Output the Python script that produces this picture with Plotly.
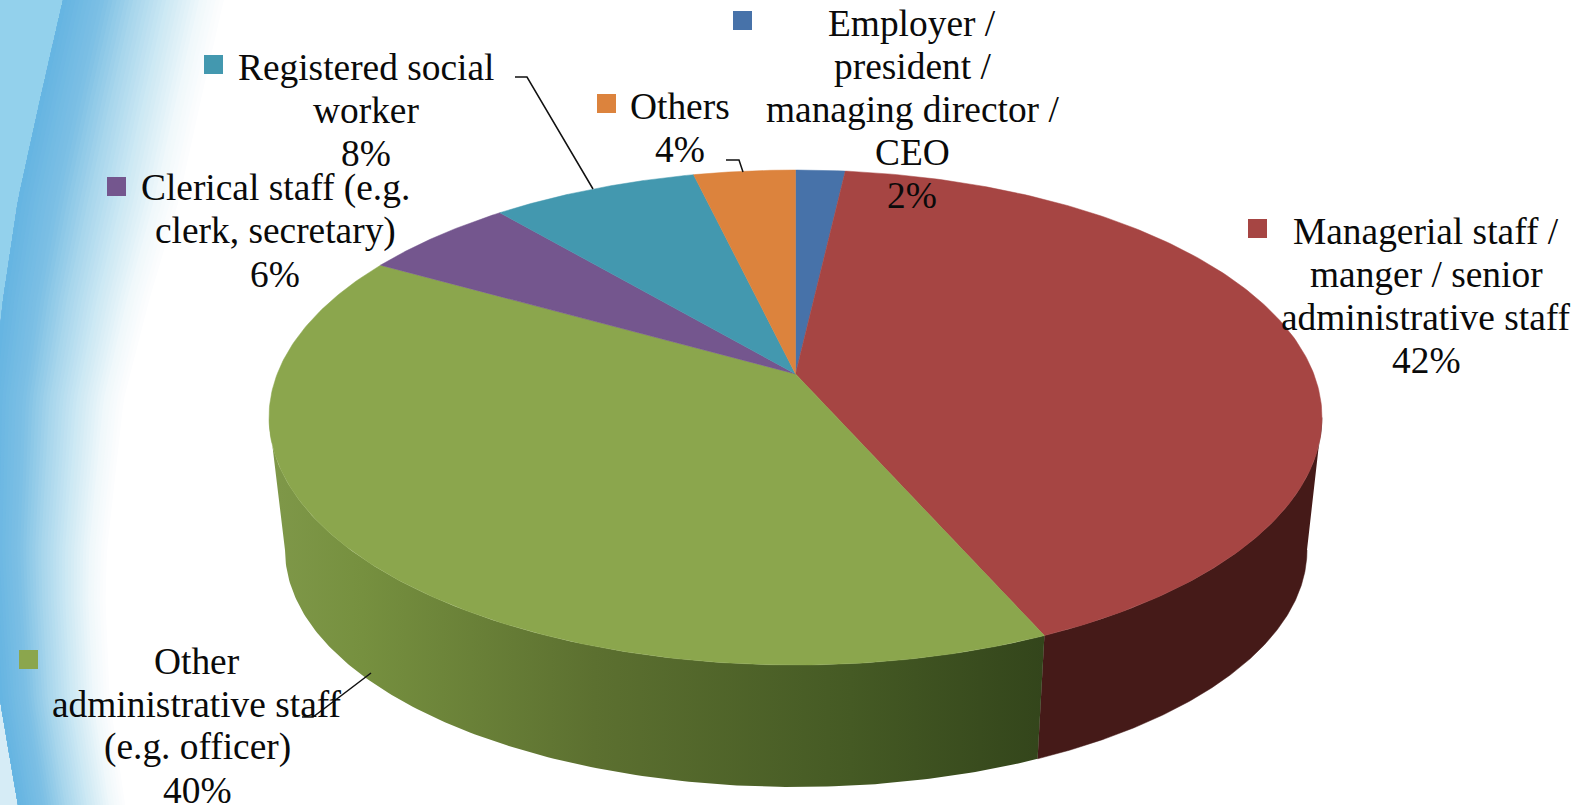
import numpy as np
import plotly.graph_objects as go

categories = ["Employer", "Managerial", "Other admin", "Clerical", "Registered", "Others"]
shares = [1.8, 41.6, 39.8, 5.6, 7.5, 3.7]
top_colors = ["#4772a9", "#a64543", "#8ba64d", "#74568e", "#4398af", "#dc833d"]
side_colors = ["#1f3350", "#451a18", "#5c7030", "#33264a", "#1d4a56", "#6e401c"]

label_lines = [
    ["Employer /", "president /", "managing director /", "CEO"],
    ["Managerial staff /", "manger / senior", "administrative staff"],
    ["Other", "administrative staff", "(e.g. officer)"],
    ["Clerical staff (e.g.", "clerk, secretary)"],
    ["Registered social", "worker"],
    ["Others"],
]
label_x = [912, 1426, 197, 275, 366, 680]
label_y = [23, 231, 661, 188, 67, 106]
key_x = [733, 1248, 19, 107, 204, 597]
key_y = [11, 219, 650, 177, 55, 94]
leaders = [
    None,
    None,
    [(302, 717), (313, 717), (371, 673)],
    None,
    [(515, 77), (527, 77), (593, 189)],
    [(726, 160), (739, 160), (743, 172)],
]

LINE_STEP = 43
FONT = dict(family="Liberation Serif, Times New Roman, serif", size=37.4, color="#0a0a0a")

# pie geometry in page pixels: perspective moves the apex above the ellipse centre
CX, CY, A, B = 795.5, 417.5, 526.5, 247.5
CX2, CY2, A2, B2 = 796, 550, 511, 237
K = 0.176


def rim(t, cx, cy, a, b):
    den = 1 + K * np.cos(t)
    x = np.sin(t) * np.sqrt(1 - K ** 2) / den
    y = (np.cos(t) + K) / den
    return cx + a * x, cy - b * y


fig = go.Figure()

# background swoosh on the left
edge_y = np.linspace(0, 805, 60)
edge_x = np.interp(edge_y, [0, 100, 200, 300, 400, 550, 700, 805], [63, 40, 18, 3, -8, -10, 0, 18])
edge_w = np.interp(edge_y, [0, 200, 400, 600, 805], [165, 165, 135, 115, 110])
stops_f = [0, 0.25, 0.45, 0.65, 0.85, 1]
stops_rgb = np.array([[100, 180, 226], [125, 192, 229], [168, 214, 236],
                      [205, 233, 244], [240, 248, 251], [255, 255, 255]])
shapes = []


def path_of(xs, ys):
    pts = [f"{x:.1f},{y:.1f}" for x, y in zip(xs, ys)]
    return "M" + " L".join(pts) + " Z"


shapes.append(dict(type="path", layer="below", line_width=0, fillcolor="#93d1ec",
                   path=path_of([0] + list(edge_x[edge_y < 340]) + [0],
                                [0] + list(edge_y[edge_y < 340]) + [340])))
shapes.append(dict(type="path", layer="below", line_width=0, fillcolor="#d6ecf6",
                   path=path_of([0] + list(edge_x[edge_y > 690]) + [0],
                                [690] + list(edge_y[edge_y > 690]) + [805])))
for f in np.linspace(1, 0.025, 40):
    rgb = [np.interp(f, stops_f, stops_rgb[:, i]) for i in range(3)]
    xs = np.r_[edge_x, (edge_x + f * edge_w)[::-1]]
    ys = np.r_[edge_y, edge_y[::-1]]
    shapes.append(dict(type="path", layer="below", line_width=0,
                       fillcolor="rgb(%d,%d,%d)" % tuple(rgb), path=path_of(xs, ys)))

starts = np.cumsum([0] + shares[:-1]) / sum(shares) * 2 * np.pi
ends = np.cumsum(shares) / sum(shares) * 2 * np.pi

# side walls: only the part between the widest rim points faces the viewer
front_from = np.arccos(-K)
front_to = 2 * np.pi - front_from
for i in range(len(shares)):
    lo, hi = max(starts[i], front_from), min(ends[i], front_to)
    if lo >= hi:
        continue
    t = np.linspace(lo, hi, 160)
    x1, y1 = rim(t, CX, CY, A, B)
    x2, y2 = rim(t[::-1], CX2, CY2, A2, B2)
    wall = dict(x=np.r_[x1, x2], y=np.r_[y1, y2], mode="lines", fill="toself",
                hoverinfo="skip", name=categories[i])
    if categories[i] == "Other admin":
        wall["line"] = dict(width=0)
        wall["fillgradient"] = dict(type="horizontal", colorscale=[
            [0, "#7f9849"], [0.12, "#76903f"], [0.42, "#5c7030"], [0.75, "#455a24"], [1, "#33451b"]])
    else:
        wall["line"] = dict(width=0.5, color=side_colors[i])
        wall["fillcolor"] = side_colors[i]
    fig.add_trace(go.Scatter(**wall))

# top face
for i in range(len(shares)):
    t = np.linspace(starts[i], ends[i], 200)
    x1, y1 = rim(t, CX, CY, A, B)
    ax, ay = CX, CY - B * K
    fig.add_trace(go.Scatter(x=np.r_[ax, x1, ax], y=np.r_[ay, y1, ay], mode="lines", fill="toself",
                             fillcolor=top_colors[i], line=dict(width=0.5, color=top_colors[i]),
                             hoverinfo="skip", name=categories[i]))

# leader lines
for pts in leaders:
    if pts is None:
        continue
    fig.add_trace(go.Scatter(x=[p[0] for p in pts], y=[p[1] for p in pts], mode="lines",
                             line=dict(color="#111111", width=1.5), hoverinfo="skip"))

# labels, one annotation per line because plotly's own line height is too tall here
annotations = []
for i in range(len(shares)):
    lines = label_lines[i] + [f"{shares[i]:.0f}%"]
    for j, line in enumerate(lines):
        annotations.append(dict(x=label_x[i], y=label_y[i] + j * LINE_STEP, text=line, showarrow=False,
                                xanchor="center", yanchor="middle", font=FONT))
    shapes.append(dict(type="rect", x0=key_x[i], x1=key_x[i] + 19, y0=key_y[i], y1=key_y[i] + 19,
                       line_width=0, fillcolor=top_colors[i]))

fig.update_layout(width=1585, height=805, margin=dict(l=0, r=0, t=0, b=0),
                  paper_bgcolor="white", plot_bgcolor="rgba(0,0,0,0)", showlegend=False,
                  shapes=shapes, annotations=annotations)
fig.update_xaxes(range=[0, 1585], visible=False)
fig.update_yaxes(range=[805, 0], visible=False)

fig.write_html("out.html", config=dict(displayModeBar=False),
               post_script="document.body.style.margin='0';document.body.style.overflow='hidden';")
